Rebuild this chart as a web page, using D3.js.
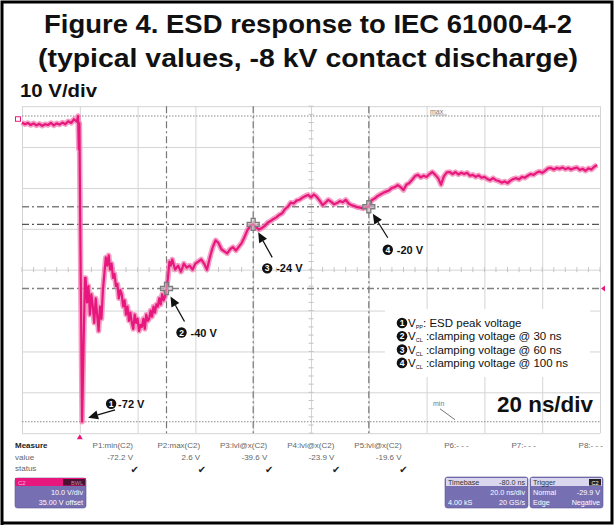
<!DOCTYPE html>
<html><head><meta charset="utf-8">
<script src="https://cdn.jsdelivr.net/npm/d3@7"></script>
<style>body{margin:0;background:#fff}svg{display:block}</style>
</head><body>
<svg id="c" width="614" height="525"></svg>
<script>
// ---------------- data ----------------
const titleLines = ["Figure 4. ESD response to IEC 61000-4-2", "(typical values, -8 kV contact discharge)"];
const vScaleLabel = "10 V/div";
const tScaleLabel = "20 ns/div";

// trace sample times (ns) and voltages (V)
const traceTimeNs = [].concat(
  d3.range(-20, 0, 1),
  [-0.6, -0.35, -0.15, 0.1, 0.8, 1.4, 1.8],
  d3.range(2, 32.5, 0.5),
  d3.range(33, 180, 1)
);
const traceVoltage = [
  // -20 .. -1
  1.0,0.6,0.9,0.4,0.8,0.3,0.7,0.2,0.6,0.4,0.9,0.3,0.8,0.5,1.0,0.6,1.3,0.9,1.8,1.2,
  // edge
  2.6,-5.5,0.8,-20,-72.2,-50,-37,
  // 2 .. 32 (0.5 ns)
  -37,-43,-39,-46,-41,-44,-48,-42,-46,-50,-44,-47,-40,-36,-32,-34,-31.5,-35,-33.5,-37,
  -36,-39,-38.5,-42,-40,-41,-44,-42.5,-46,-44,-47.5,-45.5,-48,-49.5,-46,-48,-47,-50,-48.5,-49,
  -47,-49.5,-46,-47.5,-47,-45,-46.5,-44,-45.5,-43.5,-44,-42,-43.5,-41,-42.5,-41.5,-39.6,-37,-33,-34,
  -32.5,
  // 33 .. 179
  -35,-34,-35.5,-33.5,-34.5,-34,-35,-33.5,-33,-32.5,-33.5,-35,-32,-29.5,-27.8,-28.5,-30,
  -30.5,-31,-30,-29.5,-30.3,-29.4,-28.5,-27,-25.3,-24.2,-23.9,-24.6,-25.2,-24.8,-24.3,-23.5,
  -23.1,-22.6,-22.2,-21.6,-21.2,-20.2,-19.6,-18.6,-18.8,-18.1,-17.9,-17.4,-17.0,-16.7,-17.3,
  -16.6,-17.2,-18.1,-19.2,-18.6,-17.9,-18.4,-19.0,-18.7,-18.2,-18.5,-17.9,-18.8,-19.2,-19.4,
  -19.7,-19.8,-20.0,-19.7,-19.6,-18.0,-17.6,-17.0,-16.6,-16.2,-15.9,-15.6,-15.0,-14.8,-14.3,
  -14.8,-15.5,-14.2,-13.8,-13.0,-12.1,-11.8,-12.4,-12.0,-12.3,-11.6,-11.1,-11.8,-12.6,-14.2,
  -12.1,-11.2,-11.1,-11.6,-11.1,-11.7,-11.3,-11.6,-11.3,-12.0,-11.8,-12.3,-11.9,-12.5,-12.3,
  -12.8,-13.1,-12.6,-13.1,-13.3,-13.7,-13.4,-13.8,-13.2,-12.8,-12.6,-12.9,-12.3,-12.5,-12.0,
  -11.6,-11.8,-11.3,-11.0,-11.3,-10.8,-10.2,-10.1,-10.5,-10.1,-10.3,-10.0,-10.4,-10.1,-10.5,
  -10.2,-10.0,-10.6,-10.3,-10.8,-10.2,-10.5,-9.8,-9.4
];

// measurement cursors
const cursorTimes = [30, 60, 100];
const cursorLevels = [-39.6, -23.9, -19.6];
const peakMax = 2.6, peakMin = -72.2, peakMinTime = 0.8;

// annotations
const annoNums = ["1", "2", "3", "4"];
const annoLabels = ["-72 V", "-40 V", "-24 V", "-20 V"];
const annoTimes = [peakMinTime, 30, 60, 100];
const annoVolts = [peakMin, -39.6, -23.9, -19.6];

// legend
const legendNums = ["1", "2", "3", "4"];
const legendSubs = ["PP", "CL", "CL", "CL"];
const legendTexts = [": ESD peak voltage", " :clamping voltage @ 30 ns", " :clamping voltage @ 60 ns", " :clamping voltage @ 100 ns"];

// measurement table
const measNames = ["P1:min(C2)", "P2:max(C2)", "P3:lvl@x(C2)", "P4:lvl@x(C2)", "P5:lvl@x(C2)", "P6:- - -", "P7:- - -", "P8:- - -"];
const measValues = ["-72.2 V", "2.6 V", "-39.6 V", "-23.9 V", "-19.6 V", "", "", ""];
const measOk = [true, true, true, true, true, false, false, false];

// ---------------- drawing ----------------
const svg = d3.select("#c");
const FONT = "'Liberation Sans', Arial, Helvetica, sans-serif";
const PINK = "#e8177d";
const P = {l: 22, r: 600, t: 106.2, b: 433.2};

const x = d3.scaleLinear().domain([-20, 180]).range([P.l, P.r]);
const y = d3.scaleLinear().domain([-75, 5]).range([P.b, P.t]);

svg.append("rect").attr("width", 614).attr("height", 525).attr("fill", "#fff");

// title
svg.selectAll("text.title").data(titleLines).join("text")
  .attr("x", 308).attr("y", (d, i) => 33 + i * 34)
  .attr("text-anchor", "middle")
  .attr("font-family", FONT).attr("font-weight", "bold").attr("font-size", 26)
  .attr("textLength", (d, i) => i ? 540 : 528).attr("lengthAdjust", "spacingAndGlyphs")
  .attr("fill", "#111").text(d => d);

svg.append("text").attr("x", 20).attr("y", 97)
  .attr("font-family", FONT).attr("font-weight", "bold").attr("font-size", 19)
  .attr("textLength", 77).attr("lengthAdjust", "spacingAndGlyphs")
  .attr("fill", "#111").text(vScaleLabel);

// grid
const gx = svg.append("g").attr("transform", `translate(0,${P.b})`)
  .call(d3.axisBottom(x).tickValues(d3.range(-20, 181, 20)).tickSize(-(P.b - P.t)).tickFormat(""));
const gy = svg.append("g").attr("transform", `translate(${P.l},0)`)
  .call(d3.axisLeft(y).tickValues(d3.range(-75, 6, 10)).tickSize(-(P.r - P.l)).tickFormat(""));
[gx, gy].forEach(g => {
  g.select(".domain").remove();
  g.selectAll(".tick line").attr("stroke", "#d4d4d4").attr("stroke-width", 1);
});
// minor ticks on centre lines
const cx = x(80), cy = y(-35);
svg.append("g").selectAll("line").data(d3.range(-20, 181, 4)).join("line")
  .attr("x1", d => x(d)).attr("x2", d => x(d)).attr("y1", cy - 2.5).attr("y2", cy + 2.5)
  .attr("stroke", "#c4c4c4");
svg.append("g").selectAll("line").data(d3.range(-75, 6, 2)).join("line")
  .attr("y1", d => y(d)).attr("y2", d => y(d)).attr("x1", cx - 2.5).attr("x2", cx + 2.5)
  .attr("stroke", "#c4c4c4");

// max/min dotted lines
svg.append("g").selectAll("line").data([peakMax, peakMin]).join("line")
  .attr("x1", P.l).attr("x2", P.r).attr("y1", d => y(d)).attr("y2", d => y(d))
  .attr("stroke", "#8a8a8a").attr("stroke-width", 1).attr("stroke-dasharray", "1.5,1.5");
svg.append("text").attr("x", 430).attr("y", y(peakMax) - 2).attr("font-family", FONT)
  .attr("font-size", 7).attr("fill", "#777").text("max");
svg.append("line").attr("x1", 430).attr("x2", 447).attr("y1", y(peakMax) - 1).attr("y2", y(peakMax) - 1)
  .attr("stroke", "#999").attr("stroke-width", 0.8);
svg.append("text").attr("x", 433).attr("y", y(peakMin) - 16).attr("font-family", FONT)
  .attr("font-size", 7).attr("fill", "#777").text("min");
svg.append("line").attr("x1", 440).attr("y1", y(peakMin) - 13).attr("x2", 455).attr("y2", y(peakMin) - 2)
  .attr("stroke", "#777").attr("stroke-width", 1);

// cursor lines
const dashDot = "7,3,2,3";
svg.append("g").selectAll("line").data(cursorTimes).join("line")
  .attr("x1", d => x(d)).attr("x2", d => x(d)).attr("y1", P.t).attr("y2", P.b)
  .attr("stroke", "#777").attr("stroke-width", 1.2).attr("stroke-dasharray", dashDot);
svg.append("g").selectAll("line").data(cursorLevels).join("line")
  .attr("y1", d => y(d)).attr("y2", d => y(d)).attr("x1", P.l).attr("x2", P.r)
  .attr("stroke", (d, i) => i === 1 ? "#555" : "#808080").attr("stroke-width", 1.3).attr("stroke-dasharray", dashDot);

// channel / trigger markers
svg.append("rect").attr("x", 15.5).attr("y", y(1.8) - 2.5).attr("width", 5).attr("height", 4.5)
  .attr("fill", "none").attr("stroke", PINK).attr("stroke-width", 1);
svg.append("path").attr("d", `M${P.r + 1},${y(-39.6)} l4,-3 l0,6 z`).attr("fill", PINK);
svg.append("path").attr("d", `M${x(0)},${P.b + 1} l-3,5 l6,0 z`).attr("fill", PINK);

// trace
const pts = traceTimeNs.map((t, i) => [t, traceVoltage[i]]);
const line = d3.line().x(d => x(d[0])).y(d => y(d[1]));
svg.append("path").datum(pts).attr("d", line).attr("fill", "none")
  .attr("stroke", "#f27fb2").attr("stroke-width", 5.5).attr("stroke-linejoin", "round").attr("opacity", 0.75);
svg.append("path").datum(pts).attr("d", line).attr("fill", "none")
  .attr("stroke", PINK).attr("stroke-width", 2.2).attr("stroke-linejoin", "round");

// cursor cross markers
const plus = "M-2,-6 h4 v4 h4 v4 h-4 v4 h-4 v-4 h-4 v-4 h4 z";
svg.append("g").selectAll("path").data(cursorTimes).join("path")
  .attr("transform", (d, i) => `translate(${x(d)},${y(cursorLevels[i])})`)
  .attr("d", plus).attr("fill", "rgba(200,200,200,0.55)").attr("stroke", "#7d7d7d").attr("stroke-width", 1.3);

// annotations
const headOff = [[6, -4], [4, 8], [5, 8], [4, 7]];
const tailOff = [[33, -12], [18, 33], [19, 33], [19, 31]];
const circOff = [[29, -18], [15, 44], [14, 44], [19, 43]];
function arrow(g, x1, y1, x2, y2) {
  const a = Math.atan2(y2 - y1, x2 - x1), L = 10, Wd = 4.5;
  const bx = x2 - L * Math.cos(a), by = y2 - L * Math.sin(a);
  g.append("line").attr("x1", x1).attr("y1", y1).attr("x2", bx).attr("y2", by)
    .attr("stroke", "#111").attr("stroke-width", 1.3);
  g.append("path").attr("d", `M${x2},${y2} L${bx + Wd * Math.sin(a)},${by - Wd * Math.cos(a)} L${bx - Wd * Math.sin(a)},${by + Wd * Math.cos(a)} Z`)
    .attr("fill", "#111");
}
const ag = svg.append("g");
annoNums.forEach((n, i) => {
  const px = x(annoTimes[i]), py = y(annoVolts[i]);
  arrow(ag, px + tailOff[i][0], py + tailOff[i][1], px + headOff[i][0], py + headOff[i][1]);
  const ccx = px + circOff[i][0], ccy = py + circOff[i][1];
  ag.append("circle").attr("cx", ccx).attr("cy", ccy).attr("r", 5.2).attr("fill", "#111");
  ag.append("text").attr("x", ccx).attr("y", ccy + 3).attr("text-anchor", "middle")
    .attr("font-family", FONT).attr("font-weight", "bold").attr("font-size", 8.5).attr("fill", "#fff").text(n);
  ag.append("text").attr("x", ccx + (i === 0 ? 7 : 9)).attr("y", ccy + 4)
    .attr("font-family", FONT).attr("font-weight", "bold").attr("font-size", 11).attr("fill", "#111").text(annoLabels[i]);
});

// legend box
svg.append("rect").attr("x", 385).attr("y", 309).attr("width", 205).attr("height", 68).attr("fill", "#fff");
const lg = svg.append("g");
legendNums.forEach((n, i) => {
  const yy = 323 + i * 13.3;
  lg.append("circle").attr("cx", 402).attr("cy", yy).attr("r", 5.3).attr("fill", "#111");
  lg.append("text").attr("x", 402).attr("y", yy + 3).attr("text-anchor", "middle")
    .attr("font-family", FONT).attr("font-weight", "bold").attr("font-size", 8.5).attr("fill", "#fff").text(n);
  const t = lg.append("text").attr("x", 408).attr("y", yy + 4)
    .attr("font-family", FONT).attr("font-size", 11.5).attr("fill", "#111");
  t.append("tspan").text("V");
  t.append("tspan").attr("font-size", 5.5).attr("dy", 2).text(legendSubs[i]);
  t.append("tspan").attr("dy", -2).text(legendTexts[i]);
});

svg.append("text").attr("x", 593).attr("y", 412).attr("text-anchor", "end")
  .attr("font-family", FONT).attr("font-weight", "bold").attr("font-size", 22)
  .attr("textLength", 96).attr("lengthAdjust", "spacingAndGlyphs")
  .attr("fill", "#111").text(tScaleLabel);

// measurement table
const mg = svg.append("g").attr("font-family", FONT).attr("font-size", 8).attr("fill", "#666");
mg.append("text").attr("x", 15).attr("y", 448).attr("font-weight", "bold").attr("fill", "#222").text("Measure");
mg.append("text").attr("x", 15).attr("y", 460).text("value");
mg.append("text").attr("x", 15).attr("y", 471).text("status");
const colRight = d3.scaleLinear().domain([0, 7]).range([133, 603]);
measNames.forEach((n, i) => {
  mg.append("text").attr("x", colRight(i)).attr("y", 448).attr("text-anchor", "end").text(n);
  if (measValues[i]) mg.append("text").attr("x", colRight(i)).attr("y", 460).attr("text-anchor", "end").text(measValues[i]);
  if (measOk[i]) mg.append("text").attr("x", colRight(i) + 6).attr("y", 473).attr("text-anchor", "end")
    .attr("fill", "#222").attr("font-family", "DejaVu Sans").attr("font-size", 10).text("\u2714");
});

// info boxes
const PURP = "#7670b3";
function box(bx, by, bw, bh) {
  return svg.append("rect").attr("x", bx).attr("y", by).attr("width", bw).attr("height", bh)
    .attr("rx", 2.5).attr("fill", PURP).attr("stroke", "#5d5799").attr("stroke-width", 0.6);
}
function txt(tx, ty, s, anchor, col, sz) {
  svg.append("text").attr("x", tx).attr("y", ty).attr("text-anchor", anchor || "start")
    .attr("font-family", FONT).attr("font-size", sz || 7.2).attr("fill", col || "#fff").text(s);
}
// C2 box
box(15, 478, 71, 30);
svg.append("rect").attr("x", 15).attr("y", 478).attr("width", 71).attr("height", 8).attr("fill", PINK);
svg.append("rect").attr("x", 63).attr("y", 479).attr("width", 22).attr("height", 6.5).attr("fill", "#4b1132");
txt(18, 484.5, "C2", "start", "#f9b8d6", 6);
txt(83, 484.5, "BWL", "end", "#c9879f", 5.5);
txt(83, 495, "10.0 V/div", "end");
txt(83, 505, "35.00 V offset", "end");
// Timebase box
box(445, 477, 83, 31);
svg.append("rect").attr("x", 446).attr("y", 478).attr("width", 81).attr("height", 8).attr("fill", "#d9d6ee");
txt(448, 484.5, "Timebase", "start", "#333");
txt(525, 484.5, "-80.0 ns", "end", "#333");
txt(525, 495, "20.0 ns/div", "end");
txt(448, 505, "4.00 kS", "start");
txt(525, 505, "20 GS/s", "end");
// Trigger box
box(530, 477, 73, 31);
svg.append("rect").attr("x", 531).attr("y", 478).attr("width", 71).attr("height", 8).attr("fill", "#d9d6ee");
svg.append("rect").attr("x", 589).attr("y", 479).attr("width", 12).attr("height", 6.5).attr("fill", "#222");
txt(533, 484.5, "Trigger", "start", "#333");
txt(595, 484.5, "C2", "middle", "#fff", 5.5);
txt(533, 495, "Normal");
txt(600, 495, "-29.9 V", "end");
txt(533, 505, "Edge");
txt(600, 505, "Negative", "end");

// outer frame
svg.append("path").attr("d", "M2,525 V2 H612 V523 H2").attr("fill", "none").attr("stroke", "#000").attr("stroke-width", 3);
</script>
</body></html>
